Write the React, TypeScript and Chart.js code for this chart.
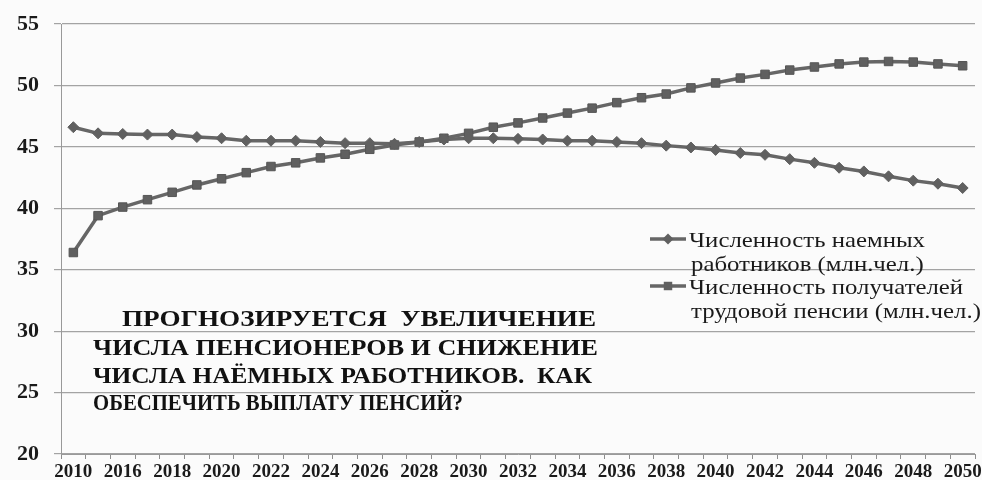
import React, { useEffect, useRef } from 'react';
import { Chart, registerables } from 'chart.js';

Chart.register(...registerables);

const years = [
  '2010', '2015', '2016', '2017', '2018', '2019', '2020', '2021', '2022', '2023',
  '2024', '2025', '2026', '2027', '2028', '2029', '2030', '2031', '2032', '2033',
  '2034', '2035', '2036', '2037', '2038', '2039', '2040', '2041', '2042', '2043',
  '2044', '2045', '2046', '2047', '2048', '2049', '2050',
];

const workers = [
  46.6, 46.1, 46.05, 46.0, 46.0, 45.8, 45.7, 45.5, 45.5, 45.5,
  45.4, 45.3, 45.3, 45.25, 45.4, 45.6, 45.7, 45.7, 45.65, 45.6,
  45.5, 45.5, 45.4, 45.3, 45.1, 44.95, 44.75, 44.5, 44.35, 44.0,
  43.7, 43.3, 43.0, 42.6, 42.25, 42.0, 41.65,
];

const pensioners = [
  36.4, 39.4, 40.1, 40.7, 41.3, 41.9, 42.4, 42.9, 43.4, 43.7,
  44.1, 44.4, 44.8, 45.15, 45.4, 45.7, 46.1, 46.6, 46.95, 47.35,
  47.75, 48.15, 48.6, 49.0, 49.3, 49.8, 50.2, 50.6, 50.9, 51.25,
  51.5, 51.75, 51.9, 51.95, 51.9, 51.75, 51.6,
];

const workersLegend = ['Численность наемных', 'работников (млн.чел.)'];
const pensionersLegend = ['Численность получателей', 'трудовой пенсии (млн.чел.)'];

const noteLines = [
  'ПРОГНОЗИРУЕТСЯ  УВЕЛИЧЕНИЕ',
  'ЧИСЛА ПЕНСИОНЕРОВ И СНИЖЕНИЕ',
  'ЧИСЛА НАЁМНЫХ РАБОТНИКОВ.  КАК',
  'ОБЕСПЕЧИТЬ ВЫПЛАТУ ПЕНСИЙ?',
];

const yMin = 20;
const yMax = 55;
const yStep = 5;

const SERIF = '"Liberation Serif", "Times New Roman", serif';
const LINE_COLOR = '#666666';
const MARK_COLOR = '#606060';
const TEXT_COLOR = '#1a1a1a';

const bgPlugin = {
  id: 'bgFill',
  beforeDraw(chart: any) {
    const { ctx, width, height } = chart;
    ctx.save();
    ctx.fillStyle = '#fbfbfb';
    ctx.fillRect(0, 0, width, height);
    ctx.restore();
  },
};

function drawMarker(ctx: CanvasRenderingContext2D, style: string, x: number, y: number, r: number) {
  ctx.beginPath();
  if (style === 'rectRot') {
    ctx.moveTo(x - r, y);
    ctx.lineTo(x, y - r);
    ctx.lineTo(x + r, y);
    ctx.lineTo(x, y + r);
    ctx.closePath();
  } else {
    const s = r * Math.SQRT1_2;
    ctx.rect(x - s, y - s, 2 * s, 2 * s);
  }
  ctx.fill();
}

const overlayPlugin = {
  id: 'overlayTexts',
  afterDraw(chart: any) {
    const ctx: CanvasRenderingContext2D = chart.ctx;
    ctx.save();

    // Legend
    ctx.font = `21px ${SERIF}`;
    ctx.fillStyle = TEXT_COLOR;
    ctx.textBaseline = 'alphabetic';
    ctx.textAlign = 'left';
    const baseW = ctx.measureText(workersLegend[0]).width;
    const sx = 236 / baseW;
    const entries = [
      { lines: workersLegend, style: 'rectRot', r: 5.5, base: 247 },
      { lines: pensionersLegend, style: 'rect', r: 6, base: 294 },
    ];
    const textX = 689;
    entries.forEach((e) => {
      const symY = e.base - 8;
      ctx.save();
      ctx.strokeStyle = LINE_COLOR;
      ctx.lineWidth = 3.5;
      ctx.beginPath();
      ctx.moveTo(650, symY);
      ctx.lineTo(686, symY);
      ctx.stroke();
      ctx.fillStyle = MARK_COLOR;
      drawMarker(ctx, e.style, 668, symY, e.r);
      ctx.restore();
      e.lines.forEach((t, i) => {
        ctx.save();
        ctx.translate(textX + (i === 0 ? 0 : 2), e.base + i * 23.5);
        ctx.scale(sx, 1);
        ctx.fillStyle = TEXT_COLOR;
        ctx.fillText(t, 0, 0);
        ctx.restore();
      });
    });

    // Annotation block
    ctx.font = `bold 24px ${SERIF}`;
    const spans = [
      { x0: 122, x1: 596, base: 326 },
      { x0: 93, x1: 598, base: 355 },
      { x0: 93, x1: 592, base: 383 },
      { x0: 93, x1: 463, base: 410 },
    ];
    noteLines.forEach((t, i) => {
      const sp = spans[i];
      const w = ctx.measureText(t).width;
      ctx.save();
      ctx.translate(sp.x0, sp.base);
      ctx.scale((sp.x1 - sp.x0) / w, 1);
      ctx.fillStyle = '#111111';
      ctx.fillText(t, 0, 0);
      ctx.restore();
    });

    ctx.restore();
  },
};

export default function App() {
  const canvasRef = useRef<HTMLCanvasElement | null>(null);

  useEffect(() => {
    if (!canvasRef.current) return;
    const chart = new Chart(canvasRef.current, {
      type: 'line',
      data: {
        labels: years,
        datasets: [
          {
            label: workersLegend.join(' '),
            data: workers,
            borderColor: LINE_COLOR,
            backgroundColor: MARK_COLOR,
            borderWidth: 3.5,
            pointStyle: 'rectRot',
            pointRadius: 5.5,
            pointBackgroundColor: MARK_COLOR,
            pointBorderColor: MARK_COLOR,
            pointBorderWidth: 1,
            tension: 0,
            fill: false,
          },
          {
            label: pensionersLegend.join(' '),
            data: pensioners,
            borderColor: LINE_COLOR,
            backgroundColor: MARK_COLOR,
            borderWidth: 3.5,
            pointStyle: 'rect',
            pointRadius: 6,
            pointBackgroundColor: MARK_COLOR,
            pointBorderColor: '#555555',
            pointBorderWidth: 1,
            tension: 0,
            fill: false,
          },
        ],
      },
      options: {
        animation: false,
        responsive: true,
        maintainAspectRatio: false,
        layout: { padding: { top: 24, right: 5, left: 0, bottom: 0 } },
        plugins: {
          legend: { display: false },
          tooltip: { enabled: false },
        },
        scales: {
          x: {
            type: 'category',
            offset: true,
            grid: {
              drawOnChartArea: false,
              drawTicks: true,
              tickLength: 5,
              offset: true,
              color: '#8c8c8c',
            },
            border: { color: '#999999', width: 1 },
            ticks: {
              autoSkip: false,
              maxRotation: 0,
              minRotation: 0,
              padding: 2,
              color: TEXT_COLOR,
              font: { family: SERIF, size: 19, weight: 'bold' },
              callback: function (this: any, v: any, i: number) {
                return i % 2 === 0 ? this.getLabelForValue(v) : '';
              },
            },
            afterFit(s: any) {
              s.height = 26;
              s.paddingLeft = 0;
              s.paddingRight = 0;
            },
          },
          y: {
            min: yMin,
            max: yMax,
            ticks: {
              stepSize: yStep,
              padding: 15,
              color: TEXT_COLOR,
              font: { family: SERIF, size: 22, weight: 'bold' },
            },
            grid: { color: '#a3a3a3', lineWidth: 1.2, tickLength: 7, drawTicks: true },
            border: { color: '#999999', width: 1 },
            afterFit(s: any) {
              s.width = 61;
              s.paddingTop = 0;
              s.paddingBottom = 0;
            },
          },
        },
      } as any,
      plugins: [bgPlugin, overlayPlugin],
    });
    return () => chart.destroy();
  }, []);

  return (
    <div style={{ position: 'absolute', left: 0, top: 0, width: 982, height: 480 }}>
      <canvas ref={canvasRef} />
    </div>
  );
}
